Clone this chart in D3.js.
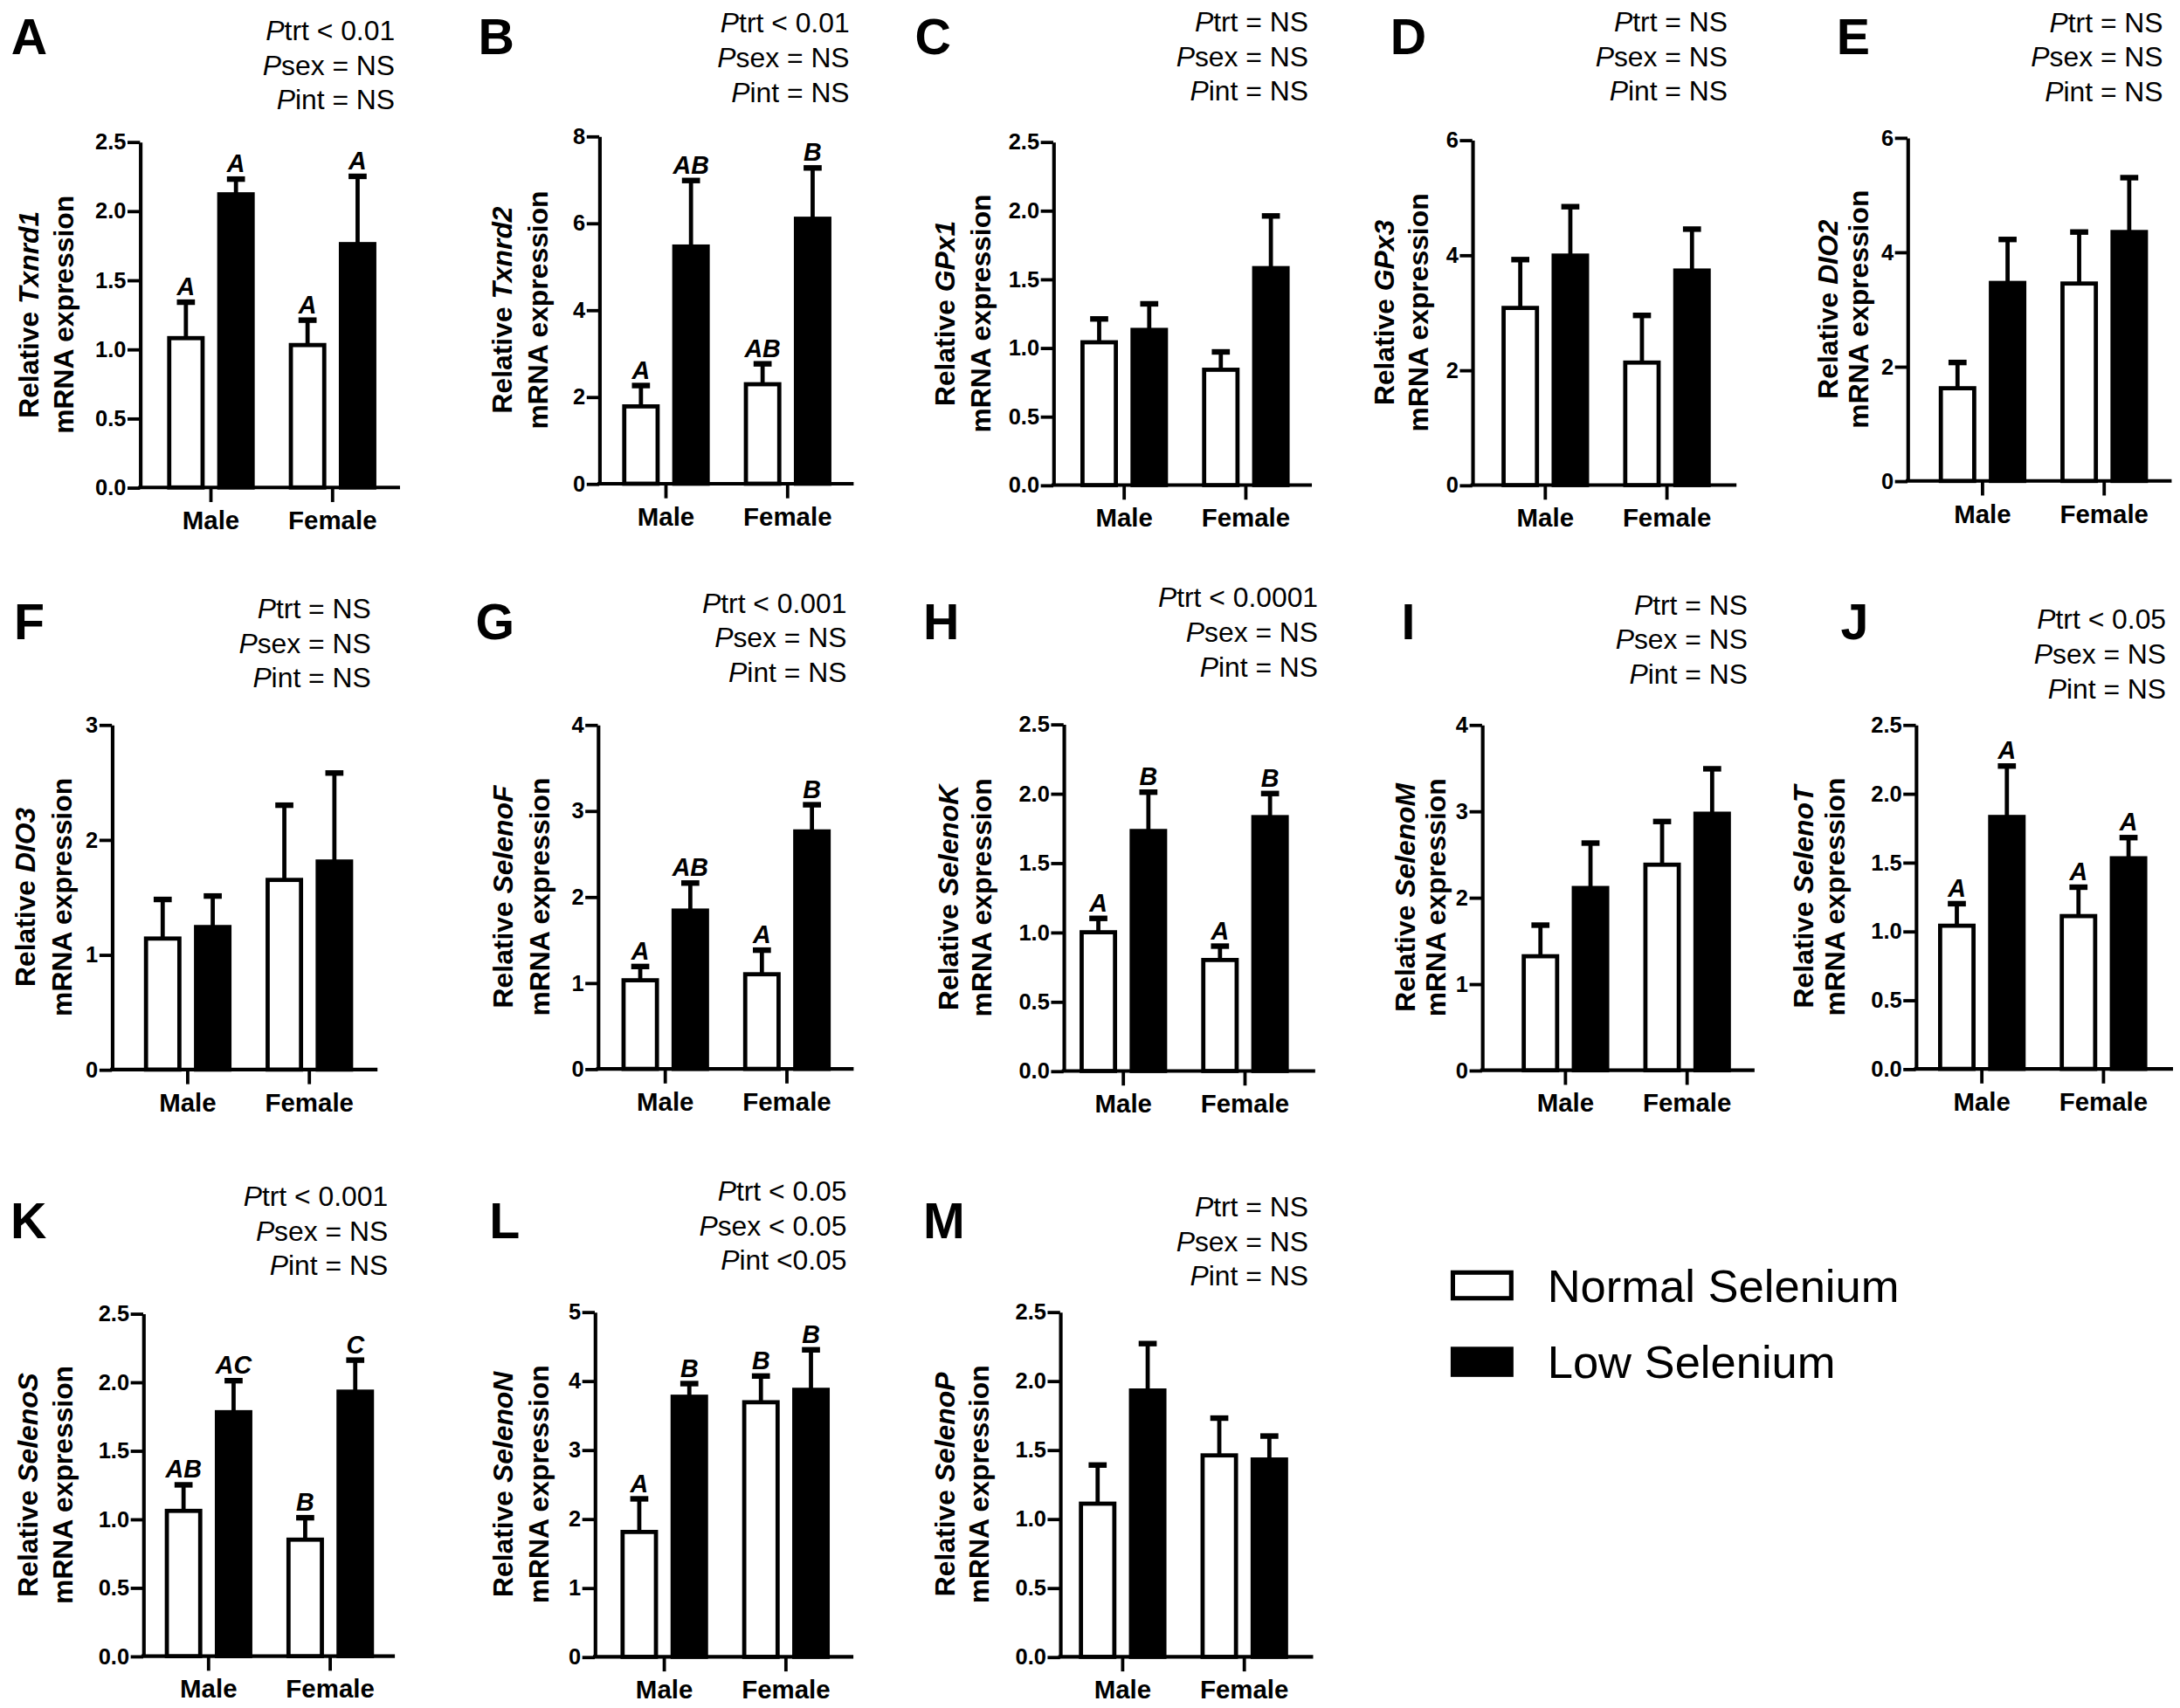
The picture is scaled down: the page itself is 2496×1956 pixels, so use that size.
<!DOCTYPE html>
<html><head><meta charset="utf-8">
<script src="https://cdn.jsdelivr.net/npm/d3@7"></script>
<style>
html,body{margin:0;padding:0;background:#fff;}
svg text{font-family:"Liberation Sans",Arial,Helvetica,sans-serif;}
</style></head>
<body>
<svg id="chart" width="2496" height="1956" viewBox="0 0 1568 1228.8"></svg>
<script>
// ---------------- DATA ----------------
const panels = ["A","B","C","D","E","F","G","H","I","J","K","L","M"];
const genes = ["Txnrd1","Txnrd2","GPx1","GPx3","DIO2","DIO3","SelenoF","SelenoK","SelenoM","SelenoT","SelenoS","SelenoN","SelenoP"];
const categories = ["Male","Female"];
const seriesNames = ["Normal Selenium","Low Selenium"];
// [Male, Female]
const normalMean = [[1.08,1.03],[1.78,2.29],[1.04,0.84],[3.08,2.13],[1.62,3.45],[1.14,1.65],[1.03,1.10],[1.00,0.80],[1.32,2.38],[1.04,1.11],[1.06,0.85],[1.81,3.69],[1.11,1.46]];
const normalErr  = [[0.26,0.18],[0.48,0.47],[0.17,0.13],[0.84,0.82],[0.45,0.90],[0.34,0.65],[0.16,0.28],[0.10,0.10],[0.36,0.50],[0.16,0.21],[0.19,0.16],[0.48,0.38],[0.28,0.27]];
const lowMean    = [[2.12,1.76],[5.46,6.10],[1.13,1.58],[3.99,3.73],[3.46,4.35],[1.24,1.81],[1.84,2.76],[1.73,1.83],[2.11,2.97],[1.83,1.53],[1.78,1.93],[3.77,3.87],[1.93,1.43]];
const lowErr     = [[0.11,0.49],[1.52,1.17],[0.19,0.38],[0.85,0.72],[0.76,0.95],[0.27,0.77],[0.32,0.31],[0.28,0.17],[0.52,0.52],[0.37,0.15],[0.23,0.23],[0.19,0.58],[0.34,0.17]];
const normalLetters = [["A","A"],["A","AB"],[],[],[],[],["A","A"],["A","A"],[],["A","A"],["AB","B"],["A","B"],[]];
const lowLetters    = [["A","A"],["AB","B"],[],[],[],[],["AB","B"],["B","B"],[],["A","A"],["AC","C"],["B","B"],[]];
const yMax  = [2.5,8,2.5,6,6,3,4,2.5,4,2.5,2.5,5,2.5];
const yStep = [0.5,2,0.5,2,2,1,1,0.5,1,0.5,0.5,1,0.5];
const pTrt = ["< 0.01","< 0.01","= NS","= NS","= NS","= NS","< 0.001","< 0.0001","= NS","< 0.05","< 0.001","< 0.05","= NS"];
const pSex = ["= NS","= NS","= NS","= NS","= NS","= NS","= NS","= NS","= NS","= NS","= NS","< 0.05","= NS"];
const pInt = ["= NS","= NS","= NS","= NS","= NS","= NS","= NS","= NS","= NS","= NS","= NS","<0.05","= NS"];

// ---------------- LAYOUT ----------------
// ax: y-axis x, top/bot: axis extent, w: x-axis length, c1: first group centre offset,
// t1/t2: title line offsets, lx/ly: panel letter, pr/py: p-value text right edge & first baseline
const layout = [
  {ax:100.7,top:102,  bot:350.7,w:187,c1:51,  t1:-80,t2:-55,lx:8,   ly:39,  pr:284,  py:28.8},
  {ax:431,  top:98,   bot:348,  w:183,c1:48,  t1:-70,t2:-44,lx:344, ly:39,  pr:611,  py:23.5},
  {ax:757.6,top:102,  bot:349,  w:186,c1:51,  t1:-78,t2:-52,lx:658, ly:39,  pr:941,  py:22.5},
  {ax:1059, top:100.7,bot:349,  w:190,c1:52.5,t1:-63,t2:-39,lx:1000,ly:39,  pr:1242.6,py:22.5},
  {ax:1372, top:99,   bot:346,  w:190,c1:54,  t1:-57,t2:-35,lx:1321,ly:39,  pr:1555.8,py:23},
  {ax:80.5, top:521.4,bot:769.5,w:191,c1:54.5,t1:-62,t2:-36,lx:10,  ly:460, pr:266.8,py:444.7},
  {ax:430,  top:521.4,bot:769,  w:184,c1:48.5,t1:-68,t2:-42,lx:342, ly:460, pr:609,  py:440.8},
  {ax:765,  top:521,  bot:770.5,w:181,c1:43,  t1:-83,t2:-59,lx:664, ly:460, pr:948,  py:436.8},
  {ax:1066, top:521.4,bot:770,  w:196,c1:60,  t1:-55,t2:-33,lx:1008,ly:460, pr:1257, py:442},
  {ax:1378, top:521.4,bot:769,  w:185,c1:47.5,t1:-81,t2:-58,lx:1324,ly:460, pr:1558, py:452.5},
  {ax:103,  top:945,  bot:1191.5,w:181,c1:47, t1:-83,t2:-58,lx:7.5, ly:890.6,pr:279,  py:867.5},
  {ax:427.8,top:943.8,bot:1192, w:186,c1:50,  t1:-66,t2:-40,lx:352, ly:890.6,pr:609,  py:863.7},
  {ax:762.5,top:943.8,bot:1192, w:182,c1:45,  t1:-83,t2:-58,lx:664, ly:890.6,pr:941,  py:875}
];
const groupStep = 87.5;
const barW = 27, sw = 3;

const svg = d3.select("#chart");

panels.forEach((pid, i) => {
  const L = layout[i];
  const g = svg.append("g");
  const y = d3.scaleLinear().domain([0, yMax[i]]).range([L.bot, L.top]);
  const x0 = d3.scaleBand().domain(categories)
    .range([L.ax + L.c1 - groupStep/2, L.ax + L.c1 + groupStep*1.5]).padding(0);
  const x1 = d3.scaleBand().domain(seriesNames).range([-31.5, 31.5]).paddingInner(0.25).paddingOuter(0);
  const cx = (c, s) => x0(c) + x0.bandwidth()/2 + x1(s) + x1.bandwidth()/2;

  // panel letter
  g.append("text").attr("x", L.lx).attr("y", L.ly).attr("font-size", 36).attr("font-weight", "bold").text(pid);

  // p-values
  [["trt", pTrt[i]], ["sex", pSex[i]], ["int", pInt[i]]].forEach((p, k) => {
    const t = g.append("text").attr("x", L.pr).attr("y", L.py + k*25).attr("text-anchor", "end").attr("font-size", 20);
    t.append("tspan").attr("font-style", "italic").text("P");
    t.append("tspan").text(p[0] + " " + p[1]);
  });

  // y axis
  const ticks = d3.range(0, yMax[i] + yStep[i]/2, yStep[i]);
  const fmt = yStep[i] < 1 ? d3.format(".1f") : d3.format("d");
  const yAxis = g.append("g").attr("transform", `translate(${L.ax},0)`)
    .call(d3.axisLeft(y).tickValues(ticks).tickFormat(fmt).tickSize(9).tickSizeOuter(0).tickPadding(1));
  yAxis.select(".domain").attr("stroke", "#000").attr("stroke-width", 2.6);
  yAxis.selectAll(".tick line").attr("stroke", "#000").attr("stroke-width", 2.4);
  yAxis.selectAll(".tick text").attr("font-size", 16).attr("font-weight", "bold").attr("fill", "#000")
    .attr("font-family", "'Liberation Sans',Arial,sans-serif");

  // x axis
  const xAxis = g.append("g").attr("transform", `translate(0,${L.bot})`)
    .call(d3.axisBottom(x0).tickSize(10.5).tickSizeOuter(0).tickPadding(6.4));
  xAxis.select(".domain").remove();
  xAxis.selectAll(".tick line").attr("stroke", "#000").attr("stroke-width", 2.4);
  xAxis.selectAll(".tick text").attr("font-size", 18.5).attr("font-weight", "bold").attr("fill", "#000")
    .attr("font-family", "'Liberation Sans',Arial,sans-serif");
  g.append("line").attr("x1", L.ax - 1.3).attr("x2", L.ax + L.w).attr("y1", L.bot).attr("y2", L.bot)
    .attr("stroke", "#000").attr("stroke-width", 2.6);

  // y title
  const midY = (L.top + L.bot) / 2;
  const t1 = g.append("text").attr("transform", `translate(${L.ax + L.t1},${midY}) rotate(-90)`)
    .attr("text-anchor", "middle").attr("dominant-baseline", "central").attr("font-size", 20).attr("font-weight", "bold");
  t1.append("tspan").text("Relative ");
  t1.append("tspan").attr("font-style", "italic").text(genes[i]);
  g.append("text").attr("transform", `translate(${L.ax + L.t2},${midY}) rotate(-90)`)
    .attr("text-anchor", "middle").attr("dominant-baseline", "central").attr("font-size", 20).attr("font-weight", "bold")
    .text("mRNA expression");

  // bars
  const rows = [];
  categories.forEach((c, ci) => {
    rows.push({c, s: seriesNames[0], v: normalMean[i][ci], e: normalErr[i][ci], lab: normalLetters[i][ci], fill: "#fff"});
    rows.push({c, s: seriesNames[1], v: lowMean[i][ci], e: lowErr[i][ci], lab: lowLetters[i][ci], fill: "#000"});
  });
  rows.forEach(d => {
    const xc = cx(d.c, d.s);
    g.append("line").attr("x1", xc).attr("x2", xc).attr("y1", y(d.v)).attr("y2", y(d.v + d.e))
      .attr("stroke", "#000").attr("stroke-width", 3);
    g.append("line").attr("x1", xc - 6.5).attr("x2", xc + 6.5).attr("y1", y(d.v + d.e)).attr("y2", y(d.v + d.e))
      .attr("stroke", "#000").attr("stroke-width", 4);
    if (d.lab) {
      g.append("text").attr("x", xc).attr("y", y(d.v + d.e) - 5).attr("text-anchor", "middle")
        .attr("font-size", 18).attr("font-weight", "bold").attr("font-style", "italic").text(d.lab);
    }
  });
  rows.forEach(d => {
    const xc = cx(d.c, d.s);
    g.append("rect").attr("x", xc - barW/2 + sw/2).attr("width", barW - sw)
      .attr("y", y(d.v)).attr("height", y(0) - y(d.v))
      .attr("fill", d.fill).attr("stroke", "#000").attr("stroke-width", sw);
  });
});

// legend
const leg = svg.append("g");
const legFill = ["#fff", "#000"];
const legY = [914, 969];
seriesNames.forEach((s, k) => {
  leg.append("rect").attr("x", 1045).attr("y", legY[k] + 1.5).attr("width", 42).attr("height", 18.5)
    .attr("fill", legFill[k]).attr("stroke", "#000").attr("stroke-width", 3.2);
  leg.append("text").attr("x", 1113).attr("y", legY[k] + 22.6).attr("font-size", 33).text(s);
});
</script>
</body></html>
